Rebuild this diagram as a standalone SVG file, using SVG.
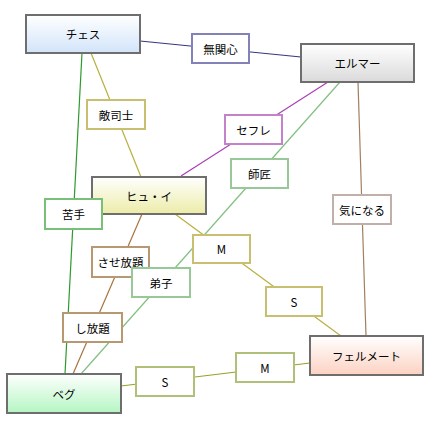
<svg xmlns="http://www.w3.org/2000/svg" width="430" height="423" viewBox="0 0 430 423">
<defs>
<linearGradient id="gChess" x1="0" y1="0" x2="0" y2="1"><stop offset="0" stop-color="#ffffff"/><stop offset="1" stop-color="#d2e4fa"/></linearGradient>
<linearGradient id="gElmer" x1="0" y1="0" x2="0" y2="1"><stop offset="0" stop-color="#ffffff"/><stop offset="1" stop-color="#dadada"/></linearGradient>
<linearGradient id="gHugh" x1="0" y1="0" x2="0" y2="1"><stop offset="0" stop-color="#ffffff"/><stop offset="1" stop-color="#ececa8"/></linearGradient>
<linearGradient id="gFerm" x1="0" y1="0" x2="0" y2="1"><stop offset="0" stop-color="#ffffff"/><stop offset="1" stop-color="#fcd2c2"/></linearGradient>
<linearGradient id="gBeg" x1="0" y1="0" x2="0" y2="1"><stop offset="0" stop-color="#ffffff"/><stop offset="1" stop-color="#b4f6c2"/></linearGradient>
</defs>
<style>
.node{stroke:#6e6e6e;stroke-width:2}
.lbl{fill:#ffffff;stroke-width:2}
text{font-family:"Noto Sans CJK JP","Liberation Sans",sans-serif;font-size:11.5px;fill:#000;text-anchor:middle;dominant-baseline:central}
.e{fill:none;stroke-width:1.2}
</style>
<g id="connectors">
<line class="e" x1="140" y1="41" x2="301" y2="57" stroke="#353580"/>
<line class="e" x1="91" y1="53" x2="141" y2="177" stroke="#b8b040"/>
<line class="e" x1="82" y1="53" x2="65" y2="374" stroke="#2e9a2e"/>
<line class="e" x1="328" y1="82" x2="181" y2="176" stroke="#a840b0"/>
<line class="e" x1="340" y1="82" x2="81" y2="374" stroke="#80c080"/>
<line class="e" x1="358" y1="82" x2="366" y2="336" stroke="#a08060"/>
<line class="e" x1="175" y1="214" x2="341" y2="336" stroke="#b8b040"/>
<line class="e" x1="142" y1="214" x2="73" y2="374" stroke="#a87440"/>
<line class="e" x1="121" y1="386" x2="310" y2="363" stroke="#98a028"/>
</g>
<g id="chess"><rect class="node" x="26" y="15" width="114" height="38" fill="url(#gChess)"/><text x="83" y="34">チェス</text></g>
<g id="elmer"><rect class="node" x="301" y="44" width="113" height="38" fill="url(#gElmer)"/><text x="357.5" y="63">エルマー</text></g>
<g id="hugh"><rect class="node" x="92" y="177" width="114" height="37" fill="url(#gHugh)"/><text x="149" y="195.5">ヒュ・イ</text></g>
<g id="fermate"><rect class="node" x="310" y="336" width="113" height="39" fill="url(#gFerm)"/><text x="366.5" y="355.5">フェルメート</text></g>
<g id="beg"><rect class="node" x="7" y="374" width="114" height="39" fill="url(#gBeg)"/><text x="64" y="393.5">ベグ</text></g>
<g id="l-mukanshin"><rect class="lbl" x="192" y="34" width="57" height="29" stroke="#8282b8"/><text x="220.5" y="48.5">無関心</text></g>
<g id="l-teki"><rect class="lbl" x="87" y="100" width="58" height="29" stroke="#c8c070"/><text x="116" y="114.5">敵司士</text></g>
<g id="l-sefure"><rect class="lbl" x="225" y="115" width="57" height="29" stroke="#c482c8"/><text x="253.5" y="129.5">セフレ</text></g>
<g id="l-shisho"><rect class="lbl" x="231" y="159" width="57" height="29" stroke="#98c898"/><text x="259.5" y="173.5">師匠</text></g>
<g id="l-nigate"><rect class="lbl" x="45" y="199" width="57" height="30" stroke="#78c078"/><text x="73.5" y="214">苦手</text></g>
<g id="l-kininaru"><rect class="lbl" x="333" y="195" width="58" height="29" stroke="#c0b0a8"/><text x="362" y="209.5">気になる</text></g>
<g id="l-m1"><rect class="lbl" x="193" y="235" width="57" height="28" stroke="#c8c070"/><text x="221.5" y="249">M</text></g>
<g id="l-sasehodai"><rect class="lbl" x="92" y="247" width="57" height="30" stroke="#b89870"/><text x="120.5" y="262">させ放題</text></g>
<g id="l-deshi"><rect class="lbl" x="132" y="268" width="58" height="29" stroke="#98c898"/><text x="161" y="282.5">弟子</text></g>
<g id="l-s1"><rect class="lbl" x="266" y="287" width="56" height="29" stroke="#c8c070"/><text x="294" y="301.5">S</text></g>
<g id="l-shihodai"><rect class="lbl" x="63" y="313" width="59" height="29" stroke="#b89870"/><text x="92.5" y="327.5">し放題</text></g>
<g id="l-s2"><rect class="lbl" x="136" y="367" width="58" height="29" stroke="#b0c078"/><text x="165" y="381.5">S</text></g>
<g id="l-m2"><rect class="lbl" x="236" y="353" width="58" height="29" stroke="#b0c078"/><text x="265" y="367.5">M</text></g>
</svg>
